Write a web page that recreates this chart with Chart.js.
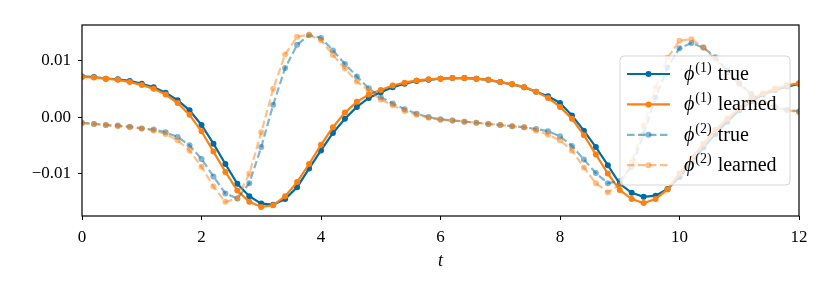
<!DOCTYPE html>
<html>
<head>
<meta charset="utf-8">
<script src="https://cdn.jsdelivr.net/npm/chart.js@4.4.0/dist/chart.umd.min.js"></script>
<style>
  html, body { margin: 0; padding: 0; background: #fff; }
  #c { display: block; }
</style>
</head>
<body>
<canvas id="c" width="831" height="297"></canvas>
<script>
/* Data */
const tValues = [0, 0.2, 0.4, 0.6, 0.8, 1, 1.2, 1.4, 1.6, 1.8, 2, 2.2, 2.4, 2.6, 2.8, 3, 3.2, 3.4, 3.6, 3.8,
    4, 4.2, 4.4, 4.6, 4.8, 5, 5.2, 5.4, 5.6, 5.8, 6, 6.2, 6.4, 6.6, 6.8, 7, 7.2, 7.4, 7.6, 7.8,
    8, 8.2, 8.4, 8.6, 8.8, 9, 9.2, 9.4, 9.6, 9.8, 10, 10.2, 10.4, 10.6, 10.8, 11, 11.2, 11.4, 11.6, 11.8, 12];

const phi1True = [0.0072, 0.0071, 0.0068, 0.0067, 0.0064, 0.0059, 0.0053, 0.0043, 0.0030, 0.0012,
    -0.0014, -0.0047, -0.0083, -0.0118, -0.0140, -0.0153, -0.0155, -0.0145, -0.0124, -0.0091,
    -0.0059, -0.0028, -0.0003, 0.0018, 0.0034, 0.0044, 0.0053, 0.0059, 0.0064, 0.0066,
    0.0068, 0.0069, 0.0069, 0.0068, 0.0066, 0.0062, 0.0058, 0.0053, 0.0045, 0.0037,
    0.0025, 0.0003, -0.0024, -0.0053, -0.0085, -0.0118, -0.0134, -0.0141, -0.0139, -0.0127,
    -0.0106, -0.0080, -0.0054, -0.0030, -0.0008, 0.0012, 0.0028, 0.0040, 0.0048, 0.0054, 0.0059];

const phi1Learned = [0.0071, 0.0070, 0.0068, 0.0066, 0.0062, 0.0057, 0.0050, 0.0040, 0.0025, 0.0004,
    -0.0025, -0.0061, -0.0097, -0.0130, -0.0150, -0.0159, -0.0156, -0.0140, -0.0115, -0.0083,
    -0.0049, -0.0018, 0.0008, 0.0027, 0.0040, 0.0048, 0.0056, 0.0061, 0.0065, 0.0067,
    0.0068, 0.0069, 0.0069, 0.0068, 0.0066, 0.0062, 0.0058, 0.0053, 0.0045, 0.0034,
    0.0018, -0.0003, -0.0032, -0.0066, -0.0100, -0.0129, -0.0145, -0.0152, -0.0145, -0.0128,
    -0.0100, -0.0073, -0.0047, -0.0023, -0.0003, 0.0016, 0.0031, 0.0042, 0.0050, 0.0056, 0.0060];

const phi2True = [-0.0010, -0.0012, -0.0014, -0.0015, -0.0017, -0.0020, -0.0022, -0.0027, -0.0035, -0.0050,
    -0.0074, -0.0105, -0.0135, -0.0144, -0.0117, -0.0053, 0.0022, 0.0087, 0.0128, 0.0145,
    0.0140, 0.0118, 0.0094, 0.0072, 0.0051, 0.0035, 0.0024, 0.0014, 0.0006, 0.0000,
    -0.0004, -0.0006, -0.0008, -0.0010, -0.0012, -0.0014, -0.0016, -0.0018, -0.0021, -0.0025,
    -0.0034, -0.0051, -0.0075, -0.0099, -0.0117, -0.0113, -0.0088, -0.0030, 0.0035, 0.0088,
    0.0122, 0.0131, 0.0123, 0.0106, 0.0083, 0.0060, 0.0041, 0.0027, 0.0018, 0.0013, 0.0010];

const phi2Learned = [-0.0011, -0.0012, -0.0014, -0.0016, -0.0018, -0.0020, -0.0024, -0.0030, -0.0041, -0.0059,
    -0.0088, -0.0123, -0.0150, -0.0144, -0.0100, -0.0027, 0.0050, 0.0111, 0.0142, 0.0146,
    0.0136, 0.0110, 0.0086, 0.0063, 0.0047, 0.0031, 0.0021, 0.0011, 0.0004, -0.0001,
    -0.0005, -0.0006, -0.0008, -0.0010, -0.0012, -0.0014, -0.0016, -0.0018, -0.0024, -0.0031,
    -0.0041, -0.0059, -0.0089, -0.0117, -0.0133, -0.0120, -0.0080, -0.0015, 0.0052, 0.0105,
    0.0135, 0.0138, 0.0123, 0.0103, 0.0080, 0.0058, 0.0040, 0.0026, 0.0017, 0.0012, 0.0009];

const xTicks = [0, 2, 4, 6, 8, 10, 12];
const yTicks = [-0.01, 0, 0.01];
const yTickLabels = ["\u22120.01", "0.00", "0.01"];
const seriesSups = ["(1)", "(1)", "(2)", "(2)"];
const seriesNames = ["true", "learned", "true", "learned"];

/* Styles */
const BLUE = "#006BA4";
const ORANGE = "#FF800E";
const BLUE_A = "rgba(0,107,164,0.5)";
const ORANGE_A = "rgba(255,128,14,0.5)";
const SERIF = "'Liberation Serif', 'DejaVu Serif', serif";
const DASH = [7.5, 3.5];
const PHI = "\u03D5";

function pts(ys){
    return tValues.map(function(t, i){ return {x: t, y: ys[i]}; });
}

function makeSet(ys, color, dashed, order){
    return {
        data: pts(ys),
        borderColor: color,
        backgroundColor: color,
        pointBackgroundColor: color,
        pointBorderWidth: 0,
        pointRadius: 3,
        borderWidth: 2.2,
        borderDash: dashed ? DASH : [],
        tension: 0,
        order: order,
    };
}

const datasets = [
    makeSet(phi1True, BLUE, false, 4),
    makeSet(phi1Learned, ORANGE, false, 3),
    makeSet(phi2True, BLUE_A, true, 2),
    makeSet(phi2Learned, ORANGE_A, true, 1),
];

/* Frame, axis title and legend */
const framePlugin = {
    id: "frame",
    afterDraw(chart){
        const ctx = chart.ctx, a = chart.chartArea;
        ctx.save();
        ctx.strokeStyle = "#000";
        ctx.lineWidth = 1.2;
        ctx.strokeRect(a.left, a.top, a.right - a.left, a.bottom - a.top);
        ctx.fillStyle = "#000";
        ctx.font = "italic 18px " + SERIF;
        ctx.textAlign = "center";
        ctx.textBaseline = "alphabetic";
        ctx.fillText("t", (a.left + a.right) / 2, a.bottom + 50);
        ctx.restore();
    }
};

const legendPlugin = {
    id: "phiLegend",
    afterDatasetsDraw(chart){
        const ctx = chart.ctx, a = chart.chartArea;
        const w = 170, h = 129;
        const x0 = a.right - 9 - w;
        const y0 = (a.top + a.bottom) / 2 - h / 2;
        ctx.save();
        ctx.beginPath();
        ctx.roundRect(x0, y0, w, h, 4);
        ctx.fillStyle = "rgba(255,255,255,0.8)";
        ctx.fill();
        ctx.strokeStyle = "rgba(204,204,204,0.8)";
        ctx.lineWidth = 1;
        ctx.stroke();

        datasets.forEach(function(ds, i){
            const yc = y0 + 18 + i * 30.4;
            ctx.strokeStyle = ds.borderColor;
            ctx.lineWidth = 2.2;
            ctx.setLineDash(ds.borderDash);
            ctx.beginPath();
            ctx.moveTo(x0 + 7, yc);
            ctx.lineTo(x0 + 50, yc);
            ctx.stroke();
            ctx.setLineDash([]);
            ctx.fillStyle = ds.borderColor;
            ctx.beginPath();
            ctx.arc(x0 + 28.5, yc, 3, 0, Math.PI * 2);
            ctx.fill();

            ctx.fillStyle = "#000";
            ctx.textAlign = "left";
            ctx.textBaseline = "alphabetic";
            let tx = x0 + 64;
            const base = yc + 6;
            ctx.font = "italic 20px " + SERIF;
            ctx.fillText(PHI, tx, base);
            tx += ctx.measureText(PHI).width + 1;
            ctx.font = "14px " + SERIF;
            ctx.fillText(seriesSups[i], tx, base - 8);
            tx += ctx.measureText(seriesSups[i]).width + 6;
            ctx.font = "20px " + SERIF;
            ctx.fillText(seriesNames[i], tx, base);
        });
        ctx.restore();
    }
};

new Chart(document.getElementById("c"), {
    type: "line",
    data: { datasets: datasets },
    plugins: [legendPlugin, framePlugin],
    options: {
        responsive: false,
        animation: false,
        layout: { padding: { left: 0, right: 32, top: 25, bottom: 0 } },
        plugins: { legend: { display: false }, tooltip: { enabled: false } },
        scales: {
            x: {
                type: "linear",
                min: 0,
                max: 12,
                afterBuildTicks: function(scale){
                    scale.ticks = xTicks.map(function(v){ return {value: v}; });
                },
                afterFit: function(scale){ scale.height = 81; },
                grid: { drawOnChartArea: false, drawTicks: true, tickLength: 4, tickColor: "#000", tickWidth: 1 },
                border: { display: false },
                ticks: {
                    color: "#000",
                    padding: 7,
                    maxRotation: 0,
                    font: { family: SERIF, size: 17 },
                    callback: function(v){ return String(v); }
                }
            },
            y: {
                type: "linear",
                min: -0.0175,
                max: 0.0163,
                afterBuildTicks: function(scale){
                    scale.ticks = yTicks.map(function(v){ return {value: v}; });
                },
                afterFit: function(scale){ scale.width = 82; },
                grid: { drawOnChartArea: false, drawTicks: true, tickLength: 4, tickColor: "#000", tickWidth: 1 },
                border: { display: false },
                ticks: {
                    color: "#000",
                    padding: 7,
                    font: { family: SERIF, size: 17 },
                    callback: function(v){
                        const k = yTicks.findIndex(function(t){ return Math.abs(t - v) < 1e-9; });
                        return k >= 0 ? yTickLabels[k] : "";
                    }
                }
            }
        }
    }
});
</script>
</body>
</html>
